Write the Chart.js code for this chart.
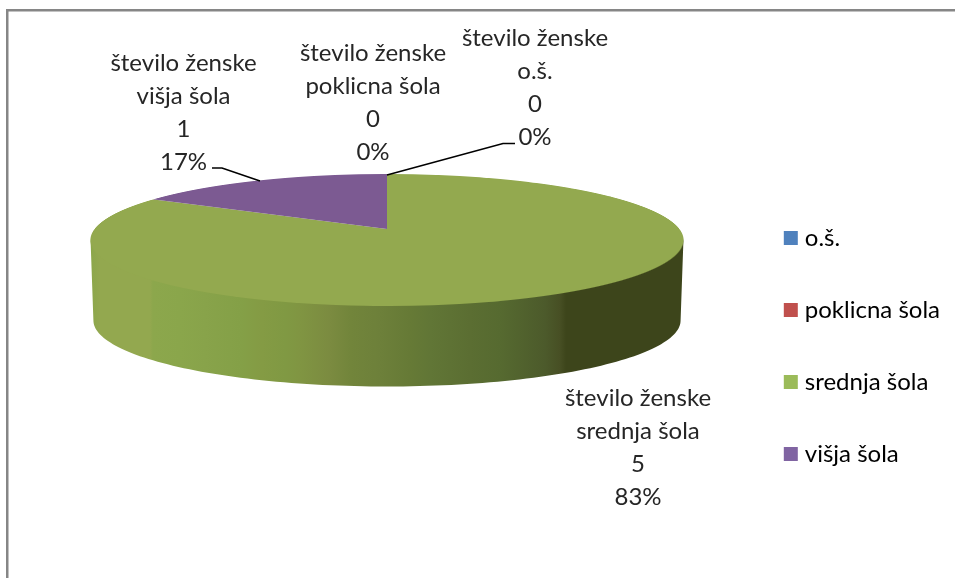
<!DOCTYPE html>
<html><head><meta charset="utf-8">
<style>html,body{margin:0;padding:0;background:#fff}#w{width:955px;height:578px;position:relative}</style>
<script src="https://cdn.jsdelivr.net/npm/chart.js@4/dist/chart.umd.min.js"></script>
</head><body><div id="w"><canvas id="c" width="955" height="578"></canvas></div>
<script>
const categories = ['o.š.', 'poklicna šola', 'srednja šola', 'višja šola'];
const seriesName = 'število ženske';
const values = [0, 0, 5, 1];
const faceColors = ['#4F81BD', '#C0504D', '#93A94F', '#7C5A92'];
const legendColors = ['#4F81BD', '#C0504D', '#9BBB59', '#8064A2'];
const FONT = 'Lato, Carlito, sans-serif';
const TEXT = '#262626';
const FONT_SIZE = 24;

// label anchor per category: centre x, first-line centre y
const labelAnchors = [[535, 38], [373, 53], [638, 398], [183.5, 63]];
const leaders = [
  [[387, 175], [503, 143.5], [515, 143.5]],
  [[212, 168], [222, 168], [260, 181]]
];
// projection of the tilted disc
const P = {x0: 387, y0: 229, A: 64.17, k: -1 / 6, X: 292.4, depth: 80.5, shrink: 0.99};
// side wall shading bands, by x in pixels
const wallBands = [[91,'#8CA74B'],[100,'#93A84F'],[150,'#93A84F'],[153,'#8CA74C'],[180,'#8AA64B'],[205,'#88A34A'],
 [240,'#84A047'],[262,'#849B44'],[285,'#809943'],[300,'#809542'],[330,'#7B8B40'],[350,'#72853B'],[380,'#6D803A'],[410,'#667A36'],[430,'#617636'],[470,'#5B6E32'],
 [500,'#566A30'],[545,'#4C5A2B'],[560,'#474F24'],[566,'#3D451B'],[684,'#3D451B']];

function project(u, v) {
  const w = 1 + P.k * v;
  return [P.x0 + P.X * u / w, P.y0 + P.A * v / w];
}

const disc3d = {
  id: 'disc3d',
  beforeDatasetsDraw(chart) {
    const ctx = chart.ctx, meta = chart.getDatasetMeta(0);
    const arcs = meta.data;
    const {x: cx, y: cy, outerRadius: R} = arcs[2];

    // frame
    ctx.save();
    ctx.fillStyle = '#868686';
    ctx.fillRect(6, 9, 949, 2.5);
    ctx.fillRect(6, 9, 2.5, 569);
    ctx.restore();

    // side wall, from each arc's angular span (front-facing part only)
    const grad = ctx.createLinearGradient(91, 0, 684, 0);
    wallBands.forEach(([x, col]) => grad.addColorStop((x - 91) / 593, col));
    const frontA = Math.asin(1 / 6), frontB = Math.PI - frontA;
    arcs.forEach(arc => {
      const s = Math.max(arc.startAngle, frontA), e = Math.min(arc.endAngle, frontB);
      if (e <= s) return;
      ctx.beginPath();
      const N = 120;
      for (let i = 0; i <= N; i++) {
        const a = s + (e - s) * i / N;
        const [x, y] = project(Math.cos(a), Math.sin(a));
        // start the wall slightly under the face so no seam shows
        i ? ctx.lineTo(x, y - 3) : ctx.moveTo(x, y - 3);
      }
      for (let i = N; i >= 0; i--) {
        const a = s + (e - s) * i / N;
        const [x, y] = project(Math.cos(a), Math.sin(a));
        ctx.lineTo(P.x0 + (x - P.x0) * P.shrink, y + P.depth);
      }
      ctx.closePath();
      ctx.fillStyle = grad;
      ctx.fill();
    });

    // top face: library arcs drawn row by row through the perspective map
    for (let Y = 170; Y < 310; Y++) {
      const t = Y + 0.5 - P.y0;
      const v = t / (P.A - P.k * t);
      if (v < -1.02 || v > 1.02) continue;
      const w = 1 + P.k * v;
      const sx = P.X / (R * w);
      const sy = P.A / (w * w * R);
      ctx.save();
      ctx.beginPath();
      ctx.rect(0, Y, chart.width, 1);
      ctx.clip();
      ctx.setTransform(sx, 0, 0, sy, P.x0 - cx * sx, Y + 0.5 - (cy + v * R) * sy);
      arcs.forEach(arc => { if (arc.circumference > 0) arc.draw(ctx); });
      ctx.restore();
    }

    // leader lines
    ctx.save();
    ctx.strokeStyle = '#000';
    ctx.lineWidth = 1.6;
    leaders.forEach(pts => {
      ctx.beginPath();
      pts.forEach(([x, y], i) => i ? ctx.lineTo(x, y) : ctx.moveTo(x, y));
      ctx.stroke();
    });
    ctx.restore();

    // data labels
    const total = values.reduce((a, b) => a + b, 0);
    ctx.save();
    ctx.font = FONT_SIZE + 'px ' + FONT;
    ctx.fillStyle = TEXT;
    ctx.textAlign = 'center';
    ctx.textBaseline = 'middle';
    categories.forEach((c, i) => {
      const [x, y] = labelAnchors[i];
      [seriesName, c, String(values[i]), Math.round(values[i] / total * 100) + '%']
        .forEach((s, j) => ctx.fillText(s, x, y + j * 33));
    });
    ctx.restore();
    return false;
  }
};

new Chart(document.getElementById('c'), {
  type: 'pie',
  data: {
    labels: categories,
    datasets: [{label: seriesName, data: values, backgroundColor: faceColors, borderWidth: 0}]
  },
  plugins: [disc3d],
  options: {
    responsive: false,
    animation: false,
    layout: {padding: {top: 114, right: 5}},
    plugins: {
      tooltip: {enabled: false},
      legend: {
        position: 'right',
        labels: {
          boxWidth: 4, boxHeight: 4, padding: 48,
          color: TEXT, font: {family: FONT, size: FONT_SIZE},
          generateLabels: () => categories.map((c, i) => ({
            text: c, fillStyle: legendColors[i], strokeStyle: legendColors[i], lineWidth: 10, hidden: false, index: i
          }))
        }
      }
    }
  }
});
</script></body></html>
